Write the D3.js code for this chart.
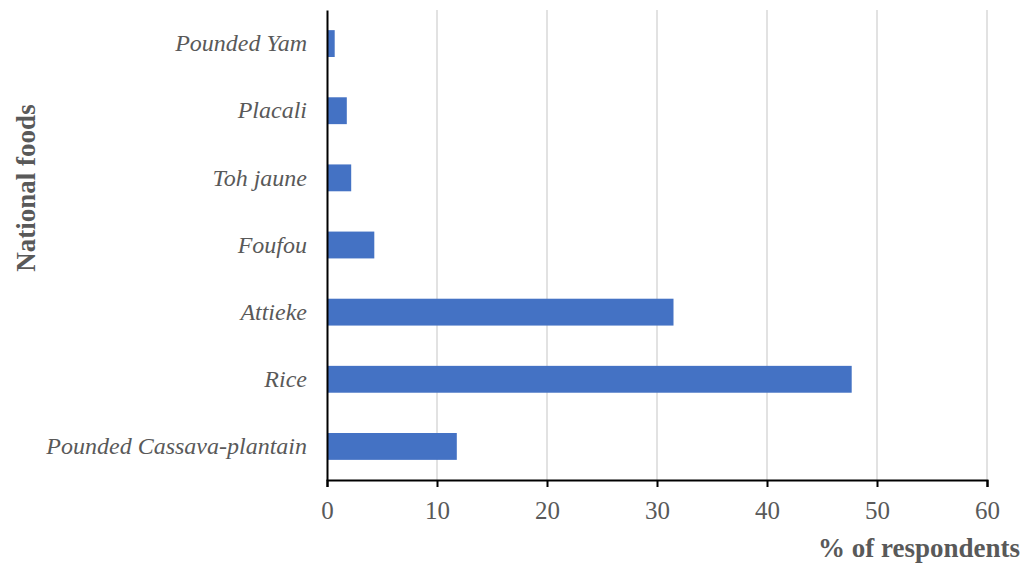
<!DOCTYPE html>
<html>
<head>
<meta charset="utf-8">
<script src="https://cdn.jsdelivr.net/npm/d3@7"></script>
<style>
  body { margin: 0; background: #fff; }
  svg { display: block; }
</style>
</head>
<body>
<div id="chart"></div>
<script>
// chart data (top to bottom)
var foods = ['Pounded Yam', 'Placali', 'Toh jaune', 'Foufou', 'Attieke', 'Rice', 'Pounded Cassava-plantain'];
var percents = [0.7, 1.8, 2.2, 4.3, 31.5, 47.7, 11.8];
var xTicks = [0, 10, 20, 30, 40, 50, 60];

var width = 1026, height = 565;
var plot = { left: 327, right: 987, top: 10, bottom: 480 };
var grey = '#595959';
var serif = '"Liberation Serif", "Times New Roman", serif';

var svg = d3.select('#chart').append('svg')
    .attr('width', width)
    .attr('height', height);

var x = d3.scaleLinear().domain([0, 60]).range([plot.left, plot.right]);
var y = d3.scaleBand().domain(foods).range([plot.top, plot.bottom])
    .paddingInner(0.6).paddingOuter(0.3);

// vertical gridlines
svg.append('g')
    .selectAll('line')
    .data(xTicks.slice(1))
    .enter().append('line')
    .attr('x1', function(d) { return x(d); })
    .attr('x2', function(d) { return x(d); })
    .attr('y1', plot.top)
    .attr('y2', plot.bottom)
    .style('stroke', '#d9d9d9')
    .style('stroke-width', 1.5);

// bars
svg.append('g')
    .selectAll('rect')
    .data(foods)
    .enter().append('rect')
    .attr('x', x(0))
    .attr('y', function(d) { return y(d); })
    .attr('width', function(d, i) { return x(percents[i]) - x(0); })
    .attr('height', y.bandwidth())
    .style('fill', '#4472c4');

// x axis
var xAxis = d3.axisBottom(x).tickValues(xTicks).tickSize(7).tickPadding(14);
var gx = svg.append('g')
    .attr('transform', 'translate(0,' + plot.bottom + ')')
    .call(xAxis);
gx.select('.domain').style('stroke', '#000').style('stroke-width', 2);
gx.selectAll('.tick line').style('stroke', '#000').style('stroke-width', 2);
gx.selectAll('.tick text')
    .style('font-family', serif)
    .style('font-size', '25px')
    .style('fill', grey);

// y axis (line only, category labels in italics)
var yAxis = d3.axisLeft(y).tickSize(0).tickPadding(20);
var gy = svg.append('g')
    .attr('transform', 'translate(' + plot.left + ',0)')
    .call(yAxis);
gy.select('.domain').style('stroke', '#000').style('stroke-width', 2);
gy.selectAll('.tick text')
    .style('font-family', serif)
    .style('font-style', 'italic')
    .style('font-size', '24px')
    .style('fill', grey);

// axis titles
svg.append('text')
    .attr('x', 1020)
    .attr('y', 557)
    .attr('text-anchor', 'end')
    .style('font-family', serif)
    .style('font-weight', 'bold')
    .style('font-size', '27px')
    .style('fill', grey)
    .text('% of respondents');

svg.append('text')
    .attr('transform', 'translate(35,188) rotate(-90)')
    .attr('text-anchor', 'middle')
    .style('font-family', serif)
    .style('font-weight', 'bold')
    .style('font-size', '27px')
    .style('fill', grey)
    .text('National foods');
</script>
</body>
</html>
